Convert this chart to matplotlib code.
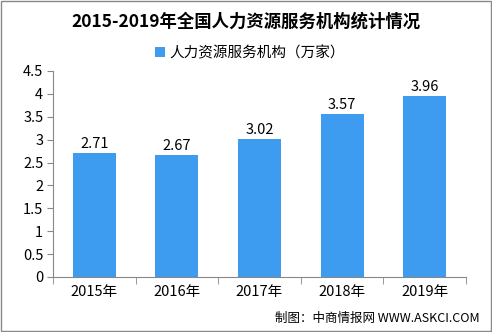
import numpy as np
import matplotlib.pyplot as plt
from matplotlib.patches import Rectangle

plt.rcParams['font.family'] = ['Noto Sans CJK SC', 'DejaVu Sans']

years = ['2015年', '2016年', '2017年', '2018年', '2019年']
values = [2.71, 2.67, 3.02, 3.57, 3.96]
bar_color = '#3D9CF0'

fig = plt.figure(figsize=(4.92, 3.32), dpi=100)
ax = fig.add_axes([53 / 492, 55 / 332, 413 / 492, 206 / 332])

x = np.arange(len(years))
bars = ax.bar(x, values, width=0.52, color=bar_color, label='人力资源服务机构（万家）')
for xi, v in zip(x, values):
    ax.text(xi, v + 0.04, f'{v:.2f}', ha='center', va='bottom', fontsize=10.5)

ax.set_xlim(-0.5, len(years) - 0.5)
ax.set_ylim(0, 4.5)
ax.set_yticks(np.arange(0, 4.51, 0.5))
ax.set_yticklabels(['0', '0.5', '1', '1.5', '2', '2.5', '3', '3.5', '4', '4.5'], fontsize=10.5)
ax.set_xticks(x)
ax.set_xticklabels(years, fontsize=10.5)
ax.set_xticks(np.arange(-0.5, len(years)), minor=True)
ax.tick_params(axis='x', which='major', length=0, pad=6)
ax.tick_params(axis='x', which='minor', length=5, color='#888888')
ax.tick_params(axis='y', length=4, color='#888888', pad=3)
for s in ['top', 'right']:
    ax.spines[s].set_visible(False)
ax.spines['left'].set_color('#888888')
ax.spines['bottom'].set_color('#888888')

fig.text(0.5, 1 - 22 / 332, '2015-2019年全国人力资源服务机构统计情况', ha='center', va='center',
         fontsize=12.5, fontweight='bold')
fig.legend(handles=[bars], loc='center', bbox_to_anchor=(250 / 492, 1 - 53 / 332), frameon=False,
           fontsize=10.5, handlelength=0.7, handleheight=0.7, handletextpad=0.3)
fig.text(1 - 12 / 492, 1 - 318 / 332, '制图：中商情报网 WWW.ASKCI.COM', ha='right', va='center', fontsize=9)

fig.patches.append(Rectangle((0.002, 0.003), 0.995, 0.994, transform=fig.transFigure,
                             fill=False, edgecolor='#888888', linewidth=1))

fig.savefig('out.png', dpi=100)
